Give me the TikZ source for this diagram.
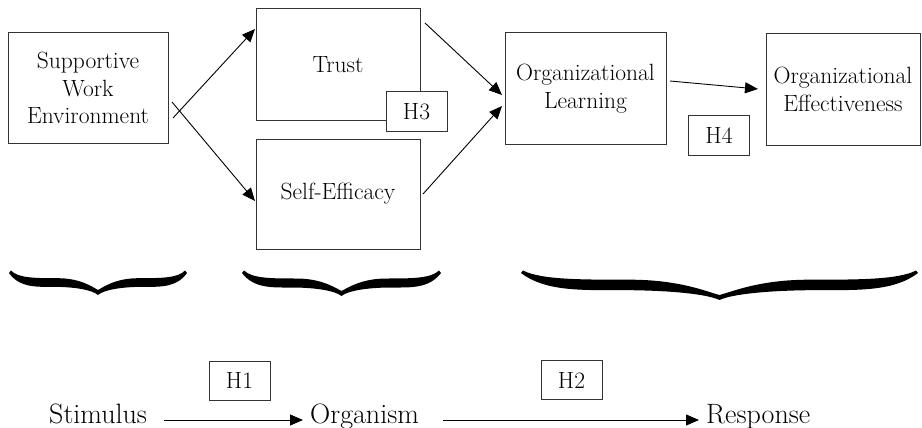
\documentclass[tikz,border=0pt]{standalone}
\usepackage{fontspec}
\usetikzlibrary{arrows.meta}
\newcommand\boxfont{\rmfamily\fontsize{23.5}{27.5}\selectfont}
\newcommand\labfont{\rmfamily\fontsize{28}{32}\selectfont}
\newcommand\curlybrace[4]{% x0, x1, top, depth
  \pgfmathsetmacro\bw{(#2-#1)/2}%
  \pgfmathsetmacro\bm{(#1+#2)/2}%
  \fill[black]
    ({#1+2},{#3-0.5})
    .. controls ({#1+0.1*\bw},{#3+0.3*#4}) and ({#1+0.3*\bw},{#3+0.3*#4}) .. ({#1+0.55*\bw},{#3+0.3*#4})
    .. controls ({#1+0.8*\bw},{#3+0.3*#4}) and ({\bm-0.06*\bw},{#3+#4-8}) .. (\bm,{#3+#4-5})
    .. controls ({\bm+0.06*\bw},{#3+#4-8}) and ({#2-0.8*\bw},{#3+0.3*#4}) .. ({#2-0.55*\bw},{#3+0.3*#4})
    .. controls ({#2-0.3*\bw},{#3+0.3*#4}) and ({#2-0.1*\bw},{#3+0.3*#4}) .. ({#2-2},{#3-0.5})
    -- (#2,{#3+2})
    .. controls ({#2-0.12*\bw},{#3+0.7*#4}) and ({#2-0.3*\bw},{#3+0.66*#4}) .. ({#2-0.5*\bw},{#3+0.66*#4})
    .. controls ({#2-0.75*\bw},{#3+0.66*#4}) and ({\bm+0.06*\bw},{#3+0.8*#4}) .. (\bm,{#3+#4})
    .. controls ({\bm-0.06*\bw},{#3+0.8*#4}) and ({#1+0.75*\bw},{#3+0.66*#4}) .. ({#1+0.5*\bw},{#3+0.66*#4})
    .. controls ({#1+0.3*\bw},{#3+0.66*#4}) and ({#1+0.12*\bw},{#3+0.7*#4}) .. (#1,{#3+2})
    -- cycle;%
}
\begin{document}
\begin{tikzpicture}[x=1pt,y=-1pt,
  box/.style={draw=black!80, line width=1pt, fill=white, align=center, inner sep=0pt, font=\boxfont},
  hbox/.style={box, minimum width=61pt, minimum height=39pt},
  arr/.style={line width=0.9pt, -{Triangle[length=13pt,width=11pt]}},
  lab/.style={anchor=base west, inner sep=0pt, font=\labfont}]
\useasboundingbox[fill=white] (0,0) rectangle (922,428);

% boxes
\node[box, minimum width=160pt, minimum height=110pt] (swe) at (88,88) {Supportive\\Work\\Environment};
\node[box, minimum width=164pt, minimum height=112pt] (trust) at (338,65) {Trust};
\node[hbox] (h3) at (416.5,111.5) {H3};
\node[box, minimum width=164pt, minimum height=110pt] (se) at (338,194) {Self-Efficacy};
\node[box, minimum width=161pt, minimum height=111pt] (ol) at (585.5,88.5) {Organizational\\Learning};
\node[box, minimum width=154pt, minimum height=111pt] (oe) at (843,89.5) {Organizational\\Effectiveness};
\node[hbox] (h4) at (719,135.5) {H4};
\node[hbox] (h1) at (239.5,380.5) {H1};
\node[hbox] (h2) at (571.5,380) {H2};

% bottom labels
\node[lab] (stim) at (49,423) {Stimulus};
\node[lab] (org) at (310,423) {Organism};
\node[lab] (resp) at (706,423) {Response};

% arrow end points
\coordinate (s1) at (173,118); \coordinate (e1) at (255,29);
\coordinate (s2) at (172,102); \coordinate (e2) at (255,201);
\coordinate (s3) at (425,23);  \coordinate (e3) at (502,95);
\coordinate (s4) at (423,194); \coordinate (e4) at (502,106);
\coordinate (s5) at (670,81);  \coordinate (e5) at (758,89);
\coordinate (s6) at (164,420); \coordinate (e6) at (303,420);
\coordinate (s7) at (443,420); \coordinate (e7) at (699,420);

\draw[arr] (s1) -- (e1);
\draw[arr] (s2) -- (e2);
\draw[arr] (s3) -- (e3);
\draw[arr] (s4) -- (e4);
\draw[arr] (s5) -- (e5);
\draw[arr] (s6) -- (e6);
\draw[arr] (s7) -- (e7);

% braces
\curlybrace{9}{187}{271}{24}
\curlybrace{242}{441}{271}{25}
\curlybrace{521}{918}{271}{29}
\end{tikzpicture}
\end{document}
